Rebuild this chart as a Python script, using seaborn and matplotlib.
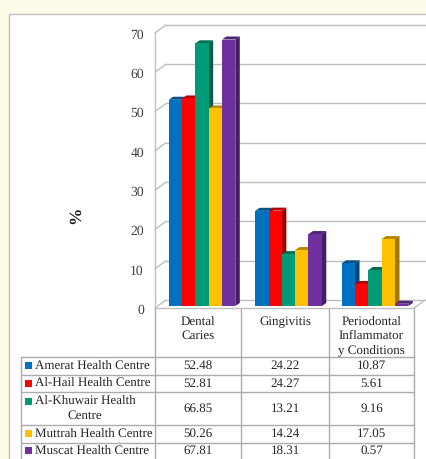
import pandas as pd
import matplotlib.pyplot as plt
import matplotlib.transforms as mtransforms
from matplotlib.colors import to_rgb
from matplotlib.patches import Polygon, Rectangle
import seaborn as sns

conditions = ['Dental\nCaries', 'Gingivitis', 'Periodontal\nInflammator\ny Conditions']
centres = ['Amerat Health Centre', 'Al-Hail Health Centre', 'Al-Khuwair Health Centre',
           'Muttrah Health Centre', 'Muscat Health Centre']
amerat = [52.48, 24.22, 10.87]
al_hail = [52.81, 24.27, 5.61]
al_khuwair = [66.85, 13.21, 9.16]
muttrah = [50.26, 14.24, 17.05]
muscat = [67.81, 18.31, 0.57]
y_ticks = [0, 10, 20, 30, 40, 50, 60, 70]
colors = ['#0070C0', '#FF0000', '#009A76', '#FFC000', '#7030A0']

W, H = 427, 459
GRID = '#BEBEBE'
LINE = '#ABABAB'
TEXT = '#262626'
FS = 9.4


def px_rect(left, top, right, bottom):
    return [left / W, 1 - bottom / H, (right - left) / W, (bottom - top) / H]


def shade(color, factor):
    return tuple(c * factor for c in to_rgb(color))


def draw_frame(ax, x0, x1):
    # 3d look of the excel chart: back wall grid and the slanted ticks
    back_dx, back_dy = 11 / 86.5, 8 / 3.93
    front = -0.51
    for v in y_ticks:
        ax.plot([x0 + back_dx, x1], [v + front + back_dy] * 2, color=GRID, lw=1, clip_on=False, zorder=1)
        ax.plot([x0, x0 + back_dx], [v + front, v + front + back_dy], color=GRID, lw=1, clip_on=False, zorder=1)
    ax.plot([x0, x0], [front, 70 + front], color=GRID, lw=1, clip_on=False, zorder=1)
    floor_end = x0 + 259 / 86.5
    ax.plot([x0, floor_end], [front, front], color=GRID, lw=1, clip_on=False, zorder=1)
    ax.plot([floor_end, floor_end + back_dx], [front, front + back_dy], color=GRID, lw=1, clip_on=False, zorder=1)


def add_depth(ax):
    # seaborn draws the front faces, the side and top are built from them
    dx, dy = 4.5 / 86.5, 3 / 3.93
    bars = sorted(ax.patches, key=lambda p: p.get_x())
    for i, bar in enumerate(bars):
        x0, x1, h = bar.get_x(), bar.get_x() + bar.get_width(), bar.get_height()
        color = bar.get_facecolor()
        z = 3 + i
        ax.add_patch(Polygon([(x1, 0), (x1 + dx, dy), (x1 + dx, h + dy), (x1, h)],
                             facecolor=shade(color, 0.62), edgecolor='none', zorder=z))
        ax.add_patch(Polygon([(x0, h), (x0 + dx, h + dy), (x1 + dx, h + dy), (x1, h)],
                             facecolor=shade(color, 0.72), edgecolor='none', zorder=z))
        bar.set_edgecolor('none')
        bar.set_linewidth(0)
        bar.set_zorder(z + 0.5)


def draw_table(bg):
    col_x = [155.5, 241, 329, 414]
    row_y = [357, 374.5, 392, 425, 442.5, 459]
    for x in col_x:
        bg.plot([x, x], [308, 459], color=LINE, lw=1)
    bg.plot([21.5, 21.5], [357, 459], color=LINE, lw=1)
    for y in row_y[:-1]:
        bg.plot([21.5, 414], [y, y], color=LINE, lw=1)

    for i, label in enumerate(conditions):
        bg.text((col_x[i] + col_x[i + 1]) / 2, 316, label, ha='center', va='top',
                fontsize=FS, color=TEXT, linespacing=1.25)

    rows = [amerat, al_hail, al_khuwair, muttrah, muscat]
    for r, name in enumerate(centres):
        mid = (row_y[r] + row_y[r + 1]) / 2
        swatch_y = mid
        if name == 'Al-Khuwair Health Centre':
            swatch_y = 401
            bg.text(35.5, 401, 'Al-Khuwair Health', ha='left', va='center', fontsize=FS, color=TEXT)
            bg.text(85, 416, 'Centre', ha='center', va='center', fontsize=FS, color=TEXT)
        else:
            bg.text(35.5, mid, name, ha='left', va='center', fontsize=FS, color=TEXT)
        bg.add_patch(Rectangle((25.5, swatch_y - 3.5), 7, 7, facecolor=colors[r], edgecolor='none'))
        for c, value in enumerate(rows[r]):
            bg.text((col_x[c] + col_x[c + 1]) / 2, mid, f'{value:.2f}', ha='center', va='center',
                    fontsize=FS, color=TEXT)


sns.set_theme(style='white')
plt.rcParams['font.family'] = ['Liberation Serif', 'DejaVu Serif']
plt.rcParams['text.hinting'] = 'none'

df = pd.DataFrame({'condition': conditions * 5,
                   'centre': [c for c in centres for _ in conditions],
                   'value': amerat + al_hail + al_khuwair + muttrah + muscat})

fig = plt.figure(figsize=(W / 100, H / 100), dpi=100, facecolor='#FFFBE9')

bg = fig.add_axes([0, 0, 1, 1], zorder=0)
bg.set_xlim(0, W)
bg.set_ylim(H, 0)
bg.axis('off')
bg.add_patch(Rectangle((9, 14), W, H, facecolor='white', edgecolor=GRID, lw=1))
draw_table(bg)
bg.text(76, 215, '%', rotation=90, ha='center', va='center', fontsize=12.5, fontweight='bold', color='#1A1A1A')

# value 0 of the bars sits at pixel y 306, one category is 86.5 px wide
ax = fig.add_axes(px_rect(155, 25, 427, 308), zorder=1)
ax.patch.set_alpha(0)
sns.barplot(data=df, x='condition', y='value', hue='centre', order=conditions, hue_order=centres,
            palette=colors, width=0.77, gap=0, saturation=1, legend=False, ax=ax, errorbar=None)
x0, x1 = (155 - 202) / 86.5, (427 - 202) / 86.5
ax.set_xlim(x0, x1)
ax.set_ylim(-0.51, 71.5)
ax.set_xlabel('')
ax.set_ylabel('')
ax.set_xticks([])
ax.set_yticks(y_ticks)
ax.tick_params(axis='y', length=0, pad=8, labelsize=9.8, labelcolor='#404040')
shift = mtransforms.ScaledTranslation(0, -3 / 100, fig.dpi_scale_trans)
for label in ax.get_yticklabels():
    label.set_transform(label.get_transform() + shift)
sns.despine(ax=ax, left=True, bottom=True)

draw_frame(ax, x0, x1)
add_depth(ax)

fig.savefig('out.png', dpi=100, facecolor=fig.get_facecolor())
